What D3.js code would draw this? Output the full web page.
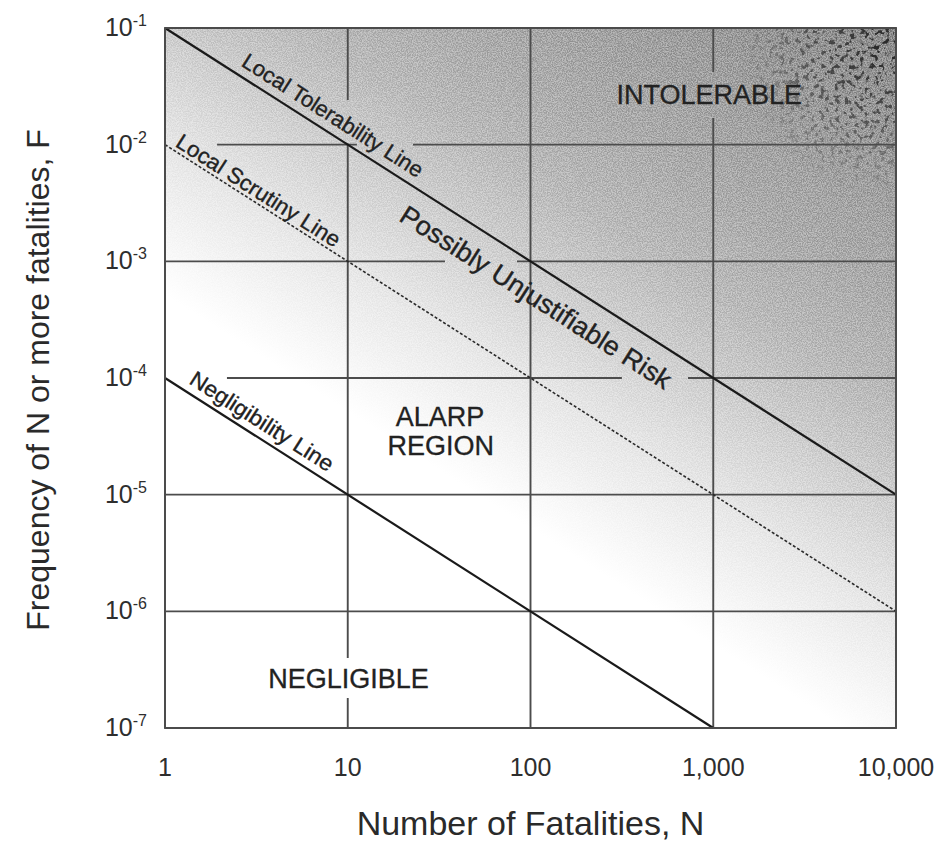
<!DOCTYPE html>
<html>
<head>
<meta charset="utf-8">
<script src="https://cdn.jsdelivr.net/npm/d3@7"></script>
<style>
  html, body { margin: 0; padding: 0; background: #fff; }
  svg { display: block; font-family: "Liberation Sans", Arial, Helvetica, sans-serif; }
</style>
</head>
<body>
<svg id="chart" width="947" height="848"></svg>
<script>
// ---- Axis decades ----
const nTicks = [1, 10, 100, 1000, 10000];
const nTickLabels = ["1", "10", "100", "1,000", "10,000"];
const fExponents = [-1, -2, -3, -4, -5, -6, -7];

// ---- F-N criterion lines: F = fAtOne / N, from N = 1 up to nEnd ----
const criterionNames = ["Local Tolerability Line", "Local Scrutiny Line", "Negligibility Line"];
const criterionFAtOne = [1e-1, 1e-2, 1e-4];
const criterionNEnd = [1e4, 1e4, 1e3];
const criterionDashed = [false, true, false];

// ---- Labels written along the criterion lines (which line, at what N) ----
const lineLabelTexts = ["Local Tolerability Line", "Local Scrutiny Line", "Possibly Unjustifiable Risk", "Negligibility Line"];
const lineLabelOnLine = [0, 1, 0, 2];
const lineLabelN = [7.4, 3.0, 129, 3.05];

// ---- Region names (centre given in N, log10 F) ----
const regionTexts = ["INTOLERABLE", "ALARP", "REGION", "NEGLIGIBLE"];
const regionN = [950, 32, 32.3, 10.1];
const regionLogF = [-1.57, -4.33, -4.58, -6.57];

// ---- Breaks in the grid where annotations sit (log10 ranges) ----
const hGridBreaks = {      // keyed by log10 F, ranges in log10 N
  "-2": [[0, 0.285], [1.05, 1.357]],
  "-3": [[1.532, 1.926]],
  "-4": [[0, 0.339], [2.50, 2.862]]
};
const vGridBreaks = {      // keyed by log10 N, ranges in log10 F
  "1": [[-1.99, -1.617], [-6.743, -6.40]],
  "3": [[-1.771, -1.377]]
};

const svg = d3.select("#chart");
const plot = { left: 165, right: 896, top: 28, bottom: 728 };

const x = d3.scaleLog().domain([1, 1e4]).range([plot.left, plot.right]);
const y = d3.scaleLog().domain([1e-7, 1e-1]).range([plot.bottom, plot.top]);

// direction of a slope -1 line on the log-log grid, and its normal (pointing up-right)
const dx = x(10) - x(1), dy = y(1e-2) - y(1e-1);
const dl = Math.hypot(dx, dy);
const nrm = [dy / dl, -dx / dl];
const angle = Math.atan2(dy, dx) * 180 / Math.PI;

const defs = svg.append("defs");

// shading: white at lower left, darkening toward upper right across the criterion lines
const g0 = [x(1), y(1e-1) + 267];
const span = 640;
const grad = defs.append("linearGradient")
  .attr("id", "riskShade").attr("gradientUnits", "userSpaceOnUse")
  .attr("x1", g0[0]).attr("y1", g0[1])
  .attr("x2", g0[0] + nrm[0] * span).attr("y2", g0[1] + nrm[1] * span);
[[0, "#ffffff"], [0.06, "#f8f8f8"], [0.2, "#e6e6e6"], [0.34, "#cfcfcf"],
 [0.47, "#bababa"], [0.6, "#acacac"], [0.8, "#9c9c9c"], [1, "#888888"]]
  .forEach(([o, c]) => grad.append("stop").attr("offset", o).attr("stop-color", c));

// printed-screen grain, stronger where the shade is darker
const grain = defs.append("filter").attr("id", "grain")
  .attr("x", 0).attr("y", 0).attr("width", "100%").attr("height", "100%")
  .attr("color-interpolation-filters", "sRGB");
grain.append("feTurbulence").attr("type", "fractalNoise").attr("baseFrequency", 0.8)
  .attr("numOctaves", 2).attr("seed", 7).attr("result", "t");
grain.append("feColorMatrix").attr("in", "t").attr("type", "matrix")
  .attr("values", "1 0 0 0 0  1 0 0 0 0  1 0 0 0 0  0 0 0 0 1").attr("result", "g");
const ct = grain.append("feComponentTransfer").attr("in", "g").attr("result", "gc");
["feFuncR", "feFuncG", "feFuncB"].forEach(f =>
  ct.append(f).attr("type", "linear").attr("slope", 3).attr("intercept", -1));
grain.append("feComposite").attr("in", "SourceGraphic").attr("in2", "gc")
  .attr("operator", "arithmetic")
  .attr("k1", -0.5).attr("k2", 1.25).attr("k3", 0.5).attr("k4", -0.25);

// dark flecks in the upper right corner
const blot = defs.append("filter").attr("id", "blot")
  .attr("x", 0).attr("y", 0).attr("width", "100%").attr("height", "100%")
  .attr("color-interpolation-filters", "sRGB");
blot.append("feTurbulence").attr("type", "fractalNoise").attr("baseFrequency", 0.2)
  .attr("numOctaves", 2).attr("seed", 4).attr("result", "t");
blot.append("feColorMatrix").attr("in", "t").attr("type", "matrix")
  .attr("values", "0 0 0 0 0.15  0 0 0 0 0.15  0 0 0 0 0.15  9 0 0 0 -5");
const corner = defs.append("radialGradient").attr("id", "cornerFade")
  .attr("gradientUnits", "userSpaceOnUse")
  .attr("cx", x(1e4) - 10).attr("cy", y(1e-1) + 20).attr("r", 150);
corner.append("stop").attr("offset", 0).attr("stop-color", "#fff");
corner.append("stop").attr("offset", 0.5).attr("stop-color", "#999");
corner.append("stop").attr("offset", 1).attr("stop-color", "#000");
defs.append("mask").attr("id", "cornerMask")
  .append("rect").attr("x", plot.left).attr("y", plot.top)
  .attr("width", plot.right - plot.left).attr("height", plot.bottom - plot.top)
  .attr("fill", "url(#cornerFade)");

// ---- background ----
svg.append("rect")
  .attr("x", plot.left).attr("y", plot.top)
  .attr("width", plot.right - plot.left).attr("height", plot.bottom - plot.top)
  .attr("fill", "url(#riskShade)").attr("filter", "url(#grain)");
svg.append("rect")
  .attr("x", plot.left).attr("y", plot.top)
  .attr("width", plot.right - plot.left).attr("height", plot.bottom - plot.top)
  .attr("fill", "#000").attr("filter", "url(#blot)").attr("mask", "url(#cornerMask)");

// ---- grid: full-range lines with breaks ----
function segments(lo, hi, breaks) {
  const out = [];
  let start = lo;
  (breaks || []).slice().sort((a, b) => a[0] - b[0]).forEach(([a, b]) => {
    if (a > start) out.push([start, a]);
    start = Math.max(start, b);
  });
  if (start < hi) out.push([start, hi]);
  return out;
}

const grid = svg.append("g").attr("stroke", "#4c4c4c").attr("stroke-width", 1.9).attr("fill", "none");
fExponents.forEach(e => {
  segments(0, 4, hGridBreaks[String(e)]).forEach(([a, b]) => {
    grid.append("line")
      .attr("x1", x(Math.pow(10, a))).attr("x2", x(Math.pow(10, b)))
      .attr("y1", y(Math.pow(10, e))).attr("y2", y(Math.pow(10, e)));
  });
});
nTicks.forEach(n => {
  const e = Math.round(Math.log10(n));
  segments(-7, -1, vGridBreaks[String(e)]).forEach(([a, b]) => {
    grid.append("line")
      .attr("x1", x(n)).attr("x2", x(n))
      .attr("y1", y(Math.pow(10, a))).attr("y2", y(Math.pow(10, b)));
  });
});

// ---- criterion lines ----
const lineGen = d3.line().x(d => x(d[0])).y(d => y(d[1]));
criterionNames.forEach((name, i) => {
  const pts = [[1, criterionFAtOne[i]], [criterionNEnd[i], criterionFAtOne[i] / criterionNEnd[i]]];
  svg.append("path")
    .attr("d", lineGen(pts))
    .attr("fill", "none")
    .attr("stroke", criterionDashed[i] ? "#2a2a2a" : "#1a1a1a")
    .attr("stroke-width", criterionDashed[i] ? 1.6 : 2.2)
    .attr("stroke-dasharray", criterionDashed[i] ? "3,2" : null);
});

// ---- labels along the lines ----
const lineLabelOffset = [17, 12, -27, 16];
const lineLabelSize = [22, 22, 26.5, 22];
const lineLabelLength = [210, 190, 316, 166];
lineLabelTexts.forEach((t, i) => {
  const k = lineLabelOnLine[i];
  const n = lineLabelN[i];
  const px = x(n) + nrm[0] * lineLabelOffset[i];
  const py = y(criterionFAtOne[k] / n) + nrm[1] * lineLabelOffset[i];
  svg.append("text")
    .attr("transform", `translate(${px},${py}) rotate(${angle})`)
    .attr("text-anchor", "middle")
    .attr("dy", "0.36em")
    .attr("font-size", lineLabelSize[i])
    .attr("textLength", lineLabelLength[i])
    .attr("lengthAdjust", "spacingAndGlyphs")
    .attr("fill", "#222").attr("stroke", "#222").attr("stroke-width", 0.35)
    .text(t);
});

// ---- region names ----
regionTexts.forEach((t, i) => {
  svg.append("text")
    .attr("x", x(regionN[i]))
    .attr("y", y(Math.pow(10, regionLogF[i])))
    .attr("dy", "0.36em")
    .attr("text-anchor", "middle")
    .attr("font-size", 27)
    .attr("fill", "#222").attr("stroke", "#222").attr("stroke-width", 0.3)
    .text(t);
});

// ---- plot frame ----
svg.append("rect")
  .attr("x", plot.left).attr("y", plot.top)
  .attr("width", plot.right - plot.left).attr("height", plot.bottom - plot.top)
  .attr("fill", "none").attr("stroke", "#4c4c4c").attr("stroke-width", 1.9);

// ---- x tick labels ----
nTicks.forEach((n, i) => {
  svg.append("text")
    .attr("x", x(n)).attr("y", plot.bottom + 48)
    .attr("text-anchor", "middle")
    .attr("font-size", 25)
    .attr("fill", "#2e2e2e")
    .text(nTickLabels[i]);
});

// ---- y tick labels: 10 with a raised exponent ----
fExponents.forEach(e => {
  const t = svg.append("text")
    .attr("x", plot.left - 18).attr("y", y(Math.pow(10, e)) + 8)
    .attr("text-anchor", "end")
    .attr("font-size", 25)
    .attr("fill", "#2e2e2e");
  t.append("tspan").text("10");
  t.append("tspan").attr("dy", -10).attr("font-size", 16).text("-" + Math.abs(e));
});

// ---- axis titles ----
svg.append("text")
  .attr("x", (plot.left + plot.right) / 2).attr("y", 835)
  .attr("text-anchor", "middle")
  .attr("font-size", 34)
  .attr("fill", "#2a2a2a")
  .text("Number of Fatalities, N");

svg.append("text")
  .attr("transform", `translate(49,${(plot.top + plot.bottom) / 2 + 2}) rotate(-90)`)
  .attr("text-anchor", "middle")
  .attr("font-size", 32)
  .attr("fill", "#2a2a2a")
  .text("Frequency of N or more fatalities, F");
</script>
</body>
</html>
